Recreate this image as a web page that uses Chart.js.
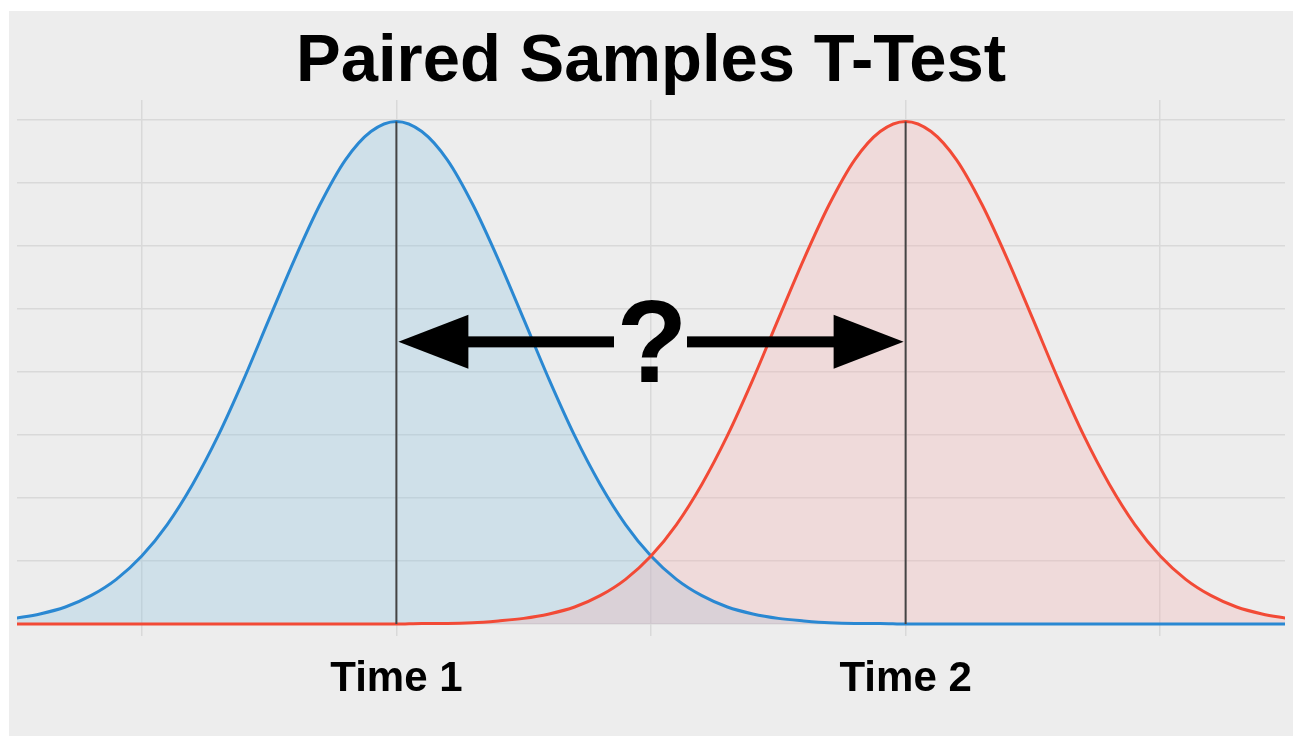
<!DOCTYPE html>
<html>
<head>
<meta charset="utf-8">
<title>Paired Samples T-Test</title>
<script src="https://cdn.jsdelivr.net/npm/chart.js@4.4.1/dist/chart.umd.min.js"></script>
<style>
  html, body { margin: 0; padding: 0; background: #ffffff; }
  #chart { display: block; }
</style>
</head>
<body>
<canvas id="chart" width="1293" height="736"></canvas>
<script>
// x positions the two curves are sampled at
const xValues = [
  -0.5, -0.4, -0.3, -0.2, -0.1, 0.0, 0.1, 0.2, 0.3, 0.4,
  0.5, 0.6, 0.7, 0.8, 0.9, 1.0, 1.1, 1.2, 1.3, 1.4,
  1.5, 1.6, 1.7, 1.8, 1.9, 2.0, 2.1, 2.2, 2.3, 2.4,
  2.5, 2.6, 2.7, 2.8, 2.9, 3.0, 3.1, 3.2, 3.3, 3.4,
  3.5, 3.6, 3.7, 3.8, 3.9, 4.0, 4.1, 4.2, 4.3, 4.4,
  4.5
];

// curve heights
const time1Density = [
  0.009, 0.016, 0.027, 0.045, 0.071, 0.108, 0.158, 0.222, 0.299, 0.388,
  0.484, 0.579, 0.666, 0.737, 0.782, 0.798, 0.782, 0.737, 0.666, 0.579,
  0.484, 0.388, 0.299, 0.222, 0.158, 0.108, 0.071, 0.045, 0.027, 0.016,
  0.009, 0.005, 0.002, 0.001, 0.001, 0, 0, 0, 0, 0,
  0, 0, 0, 0, 0, 0, 0, 0, 0, 0,
  0
];
const time2Density = [
  0, 0, 0, 0, 0, 0, 0, 0, 0, 0,
  0, 0, 0, 0, 0, 0, 0.001, 0.001, 0.002, 0.005,
  0.009, 0.016, 0.027, 0.045, 0.071, 0.108, 0.158, 0.222, 0.299, 0.388,
  0.484, 0.579, 0.666, 0.737, 0.782, 0.798, 0.782, 0.737, 0.666, 0.579,
  0.484, 0.388, 0.299, 0.222, 0.158, 0.108, 0.071, 0.045, 0.027, 0.016,
  0.009
];

// group means and the height of the mean markers
const groupMeans = [1, 3];
const peakHeights = [0.798, 0.798];

// axis ticks
const tickPositions = [0, 1, 2, 3, 4];
const tickLabels = ['', 'Time 1', '', 'Time 2', ''];
const gridLevels = [0, 0.1, 0.2, 0.3, 0.4, 0.5, 0.6, 0.7, 0.8];

// where the "?" arrows sit
const arrowLevel = 0.448;
const questionAt = 2;

const FONT = '"Liberation Sans", Arial, Helvetica, sans-serif';

const toPoints = (xs, ys) => xs.map((x, i) => ({ x: x, y: ys[i] }));

const backgroundPlugin = {
  id: 'panelBackground',
  beforeDraw(chart) {
    const ctx = chart.ctx;
    ctx.save();
    ctx.fillStyle = '#ffffff';
    ctx.fillRect(0, 0, chart.width, chart.height);
    ctx.fillStyle = '#ededed';
    ctx.fillRect(9, 11, chart.width - 9, chart.height - 11);
    ctx.restore();
  }
};

const arrowPlugin = {
  id: 'meanArrows',
  afterDatasetsDraw(chart) {
    const { ctx, scales: { x, y } } = chart;
    const yPx = y.getPixelForValue(arrowLevel);
    const left = x.getPixelForValue(groupMeans[0]) + 2;
    const right = x.getPixelForValue(groupMeans[1]) - 2;
    const mid = x.getPixelForValue(questionAt);
    const headLen = 70, headHalf = 27, shaftHalf = 5.5;

    ctx.save();
    ctx.fillStyle = '#000000';
    // left arrow
    ctx.beginPath();
    ctx.moveTo(left, yPx);
    ctx.lineTo(left + headLen, yPx - headHalf);
    ctx.lineTo(left + headLen, yPx + headHalf);
    ctx.closePath();
    ctx.fill();
    ctx.fillRect(left + headLen - 2, yPx - shaftHalf, (mid - 37) - (left + headLen - 2), shaftHalf * 2);
    // right arrow
    ctx.beginPath();
    ctx.moveTo(right, yPx);
    ctx.lineTo(right - headLen, yPx - headHalf);
    ctx.lineTo(right - headLen, yPx + headHalf);
    ctx.closePath();
    ctx.fill();
    ctx.fillRect(mid + 36, yPx - shaftHalf, (right - headLen + 2) - (mid + 36), shaftHalf * 2);
    // question mark
    ctx.font = 'bold 116px ' + FONT;
    ctx.textAlign = 'center';
    ctx.textBaseline = 'alphabetic';
    ctx.fillText('?', mid + 1, yPx + 40);
    ctx.restore();
  }
};

const meanLines = groupMeans.map((m, i) => ({
  label: 'mean ' + (i + 1),
  data: [{ x: m, y: 0 }, { x: m, y: peakHeights[i] }],
  borderColor: '#444444',
  borderWidth: 2,
  pointRadius: 0,
  fill: false,
  order: 0
}));

new Chart(document.getElementById('chart'), {
  type: 'line',
  data: {
    datasets: [
      {
        label: 'Time 1',
        data: toPoints(xValues, time1Density),
        borderColor: '#2a88d2',
        backgroundColor: 'rgba(140, 197, 224, 0.3)',
        borderWidth: 3,
        pointRadius: 0,
        fill: 'origin',
        cubicInterpolationMode: 'monotone',
        order: 2
      },
      {
        label: 'Time 2',
        data: toPoints(xValues, time2Density),
        borderColor: '#f24a36',
        backgroundColor: 'rgba(244, 174, 174, 0.3)',
        borderWidth: 3,
        pointRadius: 0,
        fill: 'origin',
        cubicInterpolationMode: 'monotone',
        order: 1
      },
      ...meanLines
    ]
  },
  options: {
    responsive: false,
    animation: false,
    devicePixelRatio: 1,
    layout: { padding: { left: 17, right: 8, top: 0, bottom: 0 } },
    plugins: {
      legend: { display: false },
      tooltip: { enabled: false },
      filler: { drawTime: 'beforeDatasetsDraw' },
      title: {
        display: true,
        text: 'Paired Samples T-Test',
        color: '#000000',
        font: { family: FONT, size: 67, weight: 'bold', lineHeight: 1 },
        padding: { top: 29, bottom: 4 }
      }
    },
    scales: {
      x: {
        type: 'linear',
        min: -0.49,
        max: 4.49,
        afterBuildTicks: (scale) => { scale.ticks = tickPositions.map(v => ({ value: v })); },
        afterFit: (scale) => { scale.height = 100; },
        border: { display: false },
        grid: { color: '#d9d9d9', lineWidth: 1.5, drawTicks: false },
        ticks: {
          padding: 18,
          color: '#000000',
          font: { family: FONT, size: 42, weight: 'bold' },
          maxRotation: 0,
          autoSkip: false,
          callback: (value) => {
            const i = tickPositions.indexOf(value);
            return i >= 0 ? tickLabels[i] : '';
          }
        }
      },
      y: {
        type: 'linear',
        min: -0.019,
        max: 0.832,
        afterBuildTicks: (scale) => { scale.ticks = gridLevels.map(v => ({ value: v })); },
        afterFit: (scale) => { scale.width = 0; },
        border: { display: false },
        grid: { color: '#d9d9d9', lineWidth: 1.5, drawTicks: false },
        ticks: { display: false }
      }
    }
  },
  plugins: [backgroundPlugin, arrowPlugin]
});
</script>
</body>
</html>
